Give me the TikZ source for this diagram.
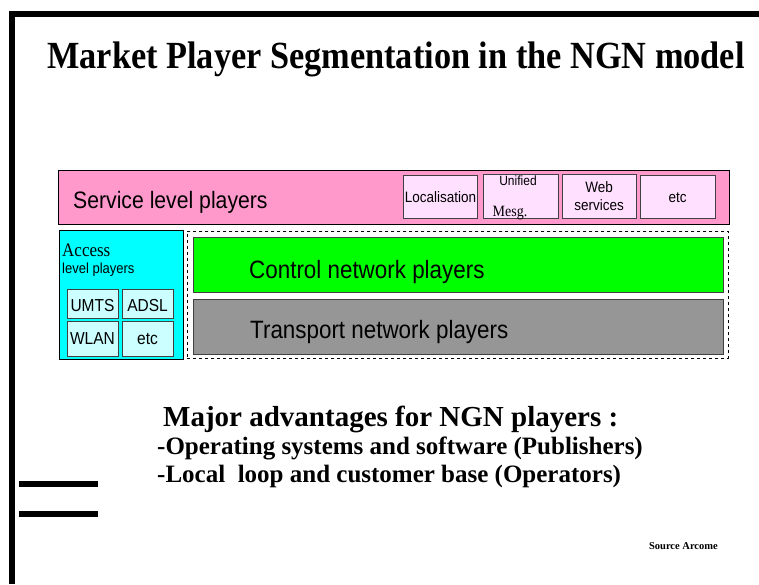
\documentclass[tikz,border=0pt]{standalone}
\usepackage{fontspec}
\setmainfont{Liberation Serif}
\setsansfont{Liberation Sans}
\newcommand\fsz[1]{\fontsize{#1}{#1}\selectfont}
\newcommand\tall[1]{\scalebox{1}[1.12]{#1}}
\definecolor{svcpink}{HTML}{FF99CC}
\definecolor{subpink}{HTML}{FFE0FF}
\definecolor{acccyan}{HTML}{00FFFF}
\definecolor{subcyan}{HTML}{CCFFFF}
\definecolor{ctrlgreen}{HTML}{00FF00}
\definecolor{trgrey}{HTML}{969696}
\definecolor{edgegrey}{HTML}{404040}
\tikzset{
  box/.style={draw=black, line width=0.9pt, anchor=north west, inner sep=0pt, outer sep=0pt},
  subbox/.style={draw=edgegrey, line width=0.8pt, anchor=north west, inner sep=0pt, outer sep=0pt},
  thickbar/.style={line width=6pt, line join=miter},
  bigsans/.style={font=\sffamily\fsz{22.4}, anchor=base west, inner sep=0pt},
  smallsans/.style={font=\sffamily\fsz{13.5}, inner sep=0pt, align=center},
  accsans/.style={font=\sffamily\fsz{15.5}, inner sep=0pt},
  boldtxt/.style={font=\bfseries, anchor=base west, inner sep=0pt},
}
\begin{document}
\begin{tikzpicture}[x=1pt,y=-1pt]
\useasboundingbox (0,0) rectangle (759,584);
% frame
\coordinate (fb) at (12,584);
\coordinate (fc) at (12,14);
\coordinate (fr) at (759,14);
\draw[thickbar] (fb) -- (fc) -- (fr);
\coordinate (b1a) at (19,484); \coordinate (b1b) at (98,484);
\coordinate (b2a) at (19,514); \coordinate (b2b) at (98,514);
\draw[thickbar] (b1a) -- (b1b);
\draw[thickbar] (b2a) -- (b2b);

% title
\node[font=\bfseries\fsz{34.3}, anchor=base, inner sep=0pt] (title) at (396,68) {\tall{Market Player Segmentation in the NGN model}};

% service level
\node[box, fill=svcpink, minimum width=671pt, minimum height=54pt] (svc) at (58,170) {};
\node[bigsans, font=\sffamily\fsz{21.2}] (svct) at (73,208) {\tall{Service level players}};
\node[subbox, fill=subpink, minimum width=74pt, minimum height=43pt] (loc) at (403,175) {};
\node[smallsans, anchor=base] (loct) at (440.5,202) {\tall{Localisation}};
\node[subbox, fill=subpink, minimum width=75pt, minimum height=44pt] (uni) at (483,174) {};
\begin{scope}
\clip (uni.north west) rectangle (uni.south east);
\node[font=\sffamily\fsz{12}, inner sep=0pt, anchor=base] (unit) at (518,185) {\tall{Unified}};
\end{scope}
\node[font=\fsz{14}, inner sep=0pt, anchor=base] (mesg) at (510,216) {\tall{Mesg.}};
\node[subbox, fill=subpink, minimum width=74pt, minimum height=44pt] (web) at (562,174) {};
\node[smallsans, anchor=base] (webt1) at (599,192) {\tall{Web}};
\node[smallsans, anchor=base] (webt2) at (599,210) {\tall{services}};
\node[subbox, fill=subpink, minimum width=75pt, minimum height=43pt] (etc1) at (640,175) {};
\node[smallsans, anchor=base] (etct) at (677.5,202) {\tall{etc}};

% access
\node[box, fill=acccyan, minimum width=124pt, minimum height=129pt] (acc) at (59,230) {};
\node[font=\fsz{17}, anchor=base west, inner sep=0pt] (acct1) at (62,256) {\tall{Access}};
\node[font=\sffamily\fsz{13}, anchor=base west, inner sep=0pt] (acct2) at (62,273) {\tall{level players}};
\node[subbox, fill=subcyan, minimum width=51pt, minimum height=29pt] (umts) at (67,289) {};
\node[accsans, anchor=base] (umtst) at (92.5,311) {\tall{UMTS}};
\node[subbox, fill=subcyan, minimum width=51pt, minimum height=29pt] (adsl) at (122,289) {};
\node[accsans, anchor=base] (adslt) at (147.5,311) {\tall{ADSL}};
\node[subbox, fill=subcyan, minimum width=51pt, minimum height=35pt] (wlan) at (67,321) {};
\node[accsans, anchor=base] (wlant) at (92.5,344) {\tall{WLAN}};
\node[subbox, fill=subcyan, minimum width=51pt, minimum height=35pt] (etc2) at (122,321) {};
\node[accsans, anchor=base] (etc2t) at (147.5,344) {\tall{etc}};

% network
\node[draw=black, dashed, line width=0.7pt, anchor=north west, inner sep=0pt, minimum width=541pt, minimum height=127pt] (net) at (187,231) {};
\node[subbox, fill=ctrlgreen, minimum width=530pt, minimum height=55pt] (ctrl) at (193,237) {};
\node[bigsans] (ctrlt) at (249,278) {\tall{Control network players}};
\node[subbox, fill=trgrey, minimum width=530pt, minimum height=55pt] (tr) at (193,299) {};
\node[bigsans] (trt) at (250,338) {\tall{Transport network players}};

% advantages
\node[boldtxt, font=\bfseries\fsz{29}] (adv) at (163,426) {Major advantages for NGN players :};
\node[boldtxt, font=\bfseries\fsz{25}] (adv1) at (157,454) {-Operating systems and software (Publishers)};
\node[boldtxt, font=\bfseries\fsz{25}] (adv2) at (157,482) {-Local\ \ loop and customer base (Operators)};
\node[font=\bfseries\fsz{10.5}, anchor=base east, inner sep=0pt] (src) at (718,549) {Source Arcome};
\end{tikzpicture}
\end{document}
